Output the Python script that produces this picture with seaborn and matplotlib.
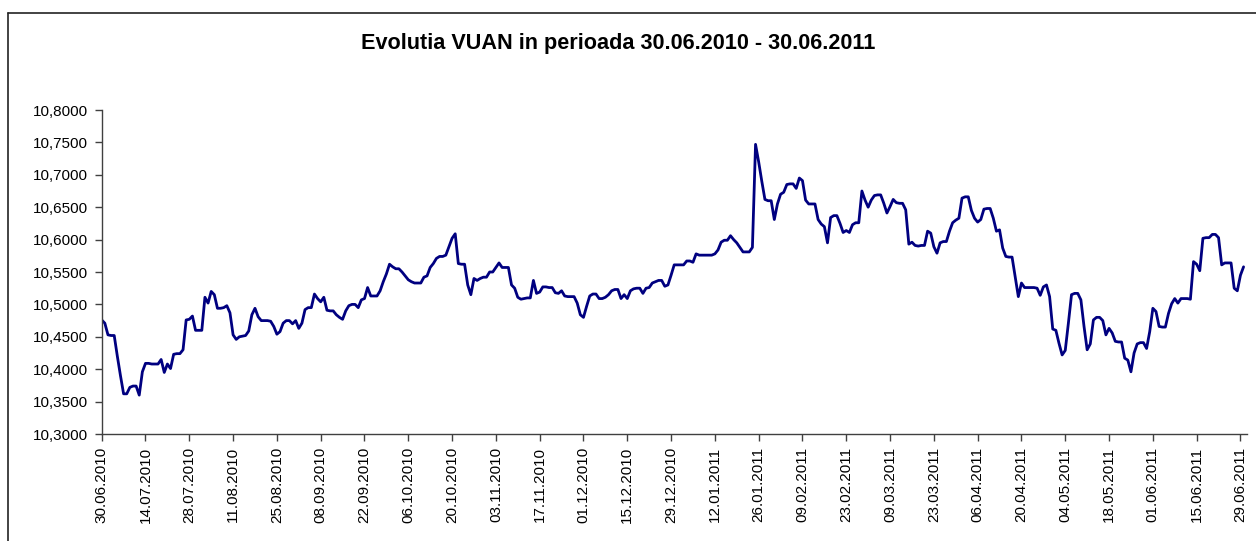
import numpy as np
import pandas as pd
import matplotlib
matplotlib.use("Agg")
import matplotlib.pyplot as plt
import matplotlib.dates as mdates
from matplotlib.ticker import FuncFormatter
from matplotlib.lines import Line2D
import seaborn as sns

# ---- data: daily VUAN values 30.06.2010 .. 30.06.2011 (weekends carry the Friday value) ----
start_date = "2010-06-30"
title_text = "Evolutia VUAN in perioada 30.06.2010 - 30.06.2011"

vuan = [
    # Wed 30.06 - Sun 04.07
    10.476, 10.471, 10.453, 10.452, 10.452,
    # weeks Mon..Sun
    10.420, 10.390, 10.362, 10.362, 10.372, 10.374, 10.374,
    10.360, 10.396, 10.409, 10.409, 10.408, 10.408, 10.408,
    10.415, 10.395, 10.408, 10.401, 10.423, 10.424, 10.424,
    10.430, 10.476, 10.477, 10.482, 10.460, 10.460, 10.460,
    10.511, 10.502, 10.520, 10.515, 10.494, 10.494, 10.495,
    10.498, 10.487, 10.453, 10.446, 10.450, 10.451, 10.452,
    10.459, 10.484, 10.494, 10.481, 10.475, 10.475, 10.475,
    10.474, 10.466, 10.454, 10.458, 10.471, 10.475, 10.475,
    10.470, 10.475, 10.463, 10.471, 10.492, 10.495, 10.495,
    10.516, 10.509, 10.504, 10.511, 10.491, 10.490, 10.490,
    10.484, 10.480, 10.477, 10.490, 10.498, 10.500, 10.500,
    10.495, 10.507, 10.509, 10.526, 10.513, 10.513, 10.513,
    10.521, 10.535, 10.547, 10.562, 10.558, 10.555, 10.555,
    10.550, 10.544, 10.538, 10.535, 10.533, 10.533, 10.533,
    10.542, 10.544, 10.557, 10.563, 10.571, 10.574, 10.574,
    10.576, 10.589, 10.602, 10.609, 10.563, 10.562, 10.562,
    10.530, 10.515, 10.540, 10.537, 10.540, 10.542, 10.542,
    10.550, 10.550, 10.557, 10.564, 10.557, 10.557, 10.557,
    10.530, 10.525, 10.511, 10.508, 10.509, 10.510, 10.510,
    10.537, 10.517, 10.519, 10.527, 10.527, 10.526, 10.526,
    10.518, 10.517, 10.521, 10.513, 10.512, 10.512, 10.512,
    10.502, 10.484, 10.480, 10.497, 10.513, 10.516, 10.516,
    10.509, 10.509, 10.511, 10.515, 10.521, 10.523, 10.523,
    10.509, 10.515, 10.509, 10.521, 10.524, 10.525, 10.525,
    10.517, 10.525, 10.526, 10.533, 10.535, 10.537, 10.537,
    10.528, 10.530, 10.545, 10.561, 10.561, 10.561, 10.561,
    10.567, 10.567, 10.565, 10.578, 10.576, 10.576, 10.576,
    10.576, 10.576, 10.578, 10.584, 10.596, 10.599, 10.599,
    10.606, 10.600, 10.595, 10.588, 10.581, 10.581, 10.581,
    10.588, 10.747, 10.720, 10.690, 10.662, 10.660, 10.660,
    10.631, 10.655, 10.670, 10.673, 10.685, 10.686, 10.686,
    10.679, 10.695, 10.691, 10.661, 10.655, 10.655, 10.655,
    10.631, 10.624, 10.620, 10.595, 10.634, 10.637, 10.637,
    10.625, 10.611, 10.614, 10.611, 10.623, 10.626, 10.626,
    10.675, 10.661, 10.650, 10.661, 10.668, 10.669, 10.669,
    10.656, 10.641, 10.651, 10.662, 10.657, 10.656, 10.656,
    10.646, 10.593, 10.596, 10.591, 10.590, 10.591, 10.591,
    10.613, 10.610, 10.589, 10.579, 10.595, 10.597, 10.597,
    10.613, 10.626, 10.630, 10.633, 10.664, 10.666, 10.666,
    10.645, 10.633, 10.627, 10.631, 10.647, 10.648, 10.648,
    10.633, 10.613, 10.615, 10.587, 10.574, 10.573, 10.573,
    10.543, 10.512, 10.533, 10.526, 10.526, 10.526, 10.526,
    10.525, 10.514, 10.527, 10.530, 10.512, 10.462, 10.460,
    10.440, 10.422, 10.429, 10.471, 10.515, 10.517, 10.517,
    10.507, 10.466, 10.430, 10.439, 10.476, 10.480, 10.480,
    10.475, 10.453, 10.463, 10.456, 10.443, 10.442, 10.442,
    10.417, 10.414, 10.396, 10.425, 10.439, 10.441, 10.441,
    10.432, 10.458, 10.494, 10.489, 10.466, 10.465, 10.465,
    10.486, 10.501, 10.509, 10.502, 10.509, 10.509, 10.509,
    10.508, 10.566, 10.562, 10.552, 10.602, 10.603, 10.603,
    10.608, 10.608, 10.603, 10.561, 10.564, 10.564, 10.564,
    # Mon 27.06 - Thu 30.06
    10.525, 10.521, 10.545, 10.558,
]

y_ticks = [10.30, 10.35, 10.40, 10.45, 10.50, 10.55, 10.60, 10.65, 10.70, 10.75, 10.80]
tick_step_days = 14

dates = pd.date_range(start_date, periods=len(vuan), freq="D")
df = pd.DataFrame({"date": dates, "vuan": vuan})

sns.set_theme(style="white")
plt.rcParams["font.family"] = ["Liberation Sans", "DejaVu Sans"]

W, H = 1256, 541
fig = plt.figure(figsize=(W / 100, H / 100), dpi=100)
ax = fig.add_axes([101.7 / W, 1 - 434 / H, (1246.7 - 101.7) / W, (434 - 110) / H])

sns.lineplot(data=df, x="date", y="vuan", ax=ax, color="#000080", linewidth=2.0)

ax.set_ylim(y_ticks[0], y_ticks[-1])
ax.set_yticks(y_ticks)
ax.yaxis.set_major_formatter(FuncFormatter(lambda v, p: f"{v:.4f}".replace(".", ",")))

x0 = dates[0]
ax.set_xlim(x0, x0 + pd.Timedelta(days=366))
xt = pd.date_range(x0, dates[-1], freq=f"{tick_step_days}D")
ax.set_xticks(xt)
ax.set_xticklabels([d.strftime("%d.%m.%Y") for d in xt], rotation=90, va="top", ha="center")

ax.set_xlabel("")
ax.set_ylabel("")
for s in ["top", "right"]:
    ax.spines[s].set_visible(False)
for s in ["left", "bottom"]:
    ax.spines[s].set_color("#404040")
    ax.spines[s].set_linewidth(1.0)
ax.tick_params(axis="both", which="major", direction="out", length=5, width=1.0,
               color="#404040", labelsize=11, labelcolor="black", left=True, bottom=True)
ax.tick_params(axis="y", pad=5)
ax.tick_params(axis="x", pad=4)
ax.grid(False)
ax.set_facecolor("white")

fig.text(618 / W, 1 - 44 / H, title_text, ha="center", va="center",
         fontsize=15.6, fontweight="bold", color="black")

# outer chart border (left and top visible in the reference)
bx, by = 7.5 / W, 1 - 12.5 / H
fig.add_artist(Line2D([bx, bx], [0, by], transform=fig.transFigure, color="#222222", linewidth=1.2))
fig.add_artist(Line2D([bx, 1.0], [by, by], transform=fig.transFigure, color="#222222", linewidth=1.2))

fig.savefig("out.png", dpi=100, facecolor="white")
